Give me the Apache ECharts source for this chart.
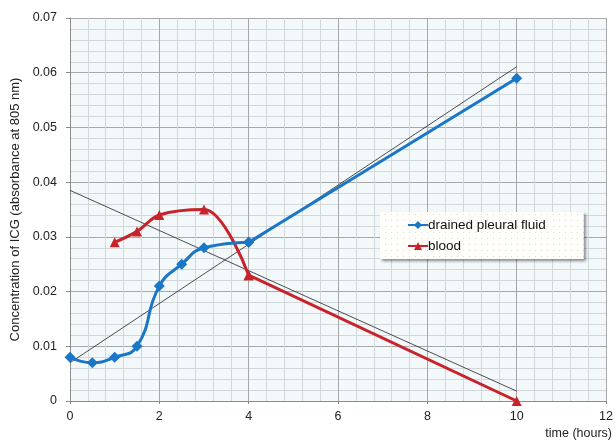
<!DOCTYPE html>
<html><head><meta charset="utf-8">
<script src="https://cdn.jsdelivr.net/npm/echarts@6/dist/echarts.min.js"></script>
<style>html,body{margin:0;padding:0;background:#fff}#c{width:616px;height:440px}</style>
</head><body><div id="c"></div>
<script>
const fluidX = [0, 0.5, 1, 1.5, 2, 2.5, 3, 4, 10];
const fluidY = [0.008, 0.007, 0.008, 0.010, 0.021, 0.025, 0.028, 0.029, 0.059];
const bloodX = [1, 1.5, 2, 3, 4, 10];
const bloodY = [0.029, 0.031, 0.034, 0.035, 0.023, 0];
const trendUp = [[0, 0.0070], [10, 0.0611]];
const trendDown = [[0, 0.0385], [10, 0.0018]];
const seriesNames = ['drained pleural fluid', 'blood'];
const xAxisName = 'time (hours)';
const yAxisName = 'Concentration of ICG (absorbance at 805 nm)';

const pc = document.createElement('canvas');
pc.width = 6; pc.height = 6;
const pctx = pc.getContext('2d');
pctx.fillStyle = '#fffefb'; pctx.fillRect(0,0,6,6);
pctx.fillStyle = '#e6d9bd'; pctx.fillRect(2,2,1,1);

const chart = echarts.init(document.getElementById('c'));
const zip = (xs, ys) => xs.map((x, i) => [x, ys[i]]);
const fluidPts = zip(fluidX, fluidY);
const bloodPts = zip(bloodX, bloodY);
const BLUE = '#1a76c6', RED = '#c8232b';
const mk = (name, data, smooth, sym, size, color, z) => ({
  name, type: 'line', data, smooth, symbol: sym, symbolSize: size,
  itemStyle: {color}, lineStyle: {color, width: 3}, z
});
chart.setOption({
  animation: false,
  textStyle: {fontFamily: 'Liberation Sans, Arial, sans-serif'},
  grid: {left: 70, right: 6, top: 18, bottom: 39, show: true, backgroundColor: '#f3f8fb', borderWidth: 0},
  xAxis: {
    type: 'value', min: 0, max: 12, interval: 2,
    axisLine: {show: true, lineStyle: {color: '#8c8c8c'}},
    axisTick: {show: true, length: 3, lineStyle: {color: '#8c8c8c'}},
    axisLabel: {color: '#222', fontSize: 12.5, margin: 9},
    splitLine: {show: true, lineStyle: {color: '#a8a8a8', width: 1}},
    minorTick: {show: false, splitNumber: 5},
    minorSplitLine: {show: true, lineStyle: {color: '#d3d8db', width: 1}}
  },
  yAxis: {
    type: 'value', min: 0, max: 0.07, interval: 0.01,
    name: yAxisName, nameLocation: 'middle', nameGap: 47,
    nameTextStyle: {color: '#222', fontSize: 13},
    axisLine: {show: true, lineStyle: {color: '#8c8c8c'}},
    axisTick: {show: true, length: 4, lineStyle: {color: '#8c8c8c'}},
    axisLabel: {color: '#222', fontSize: 12.5, margin: 13, formatter: v => v === 0 ? '0' : v.toFixed(2)},
    splitLine: {show: true, lineStyle: {color: '#a8a8a8', width: 1}},
    minorTick: {show: false, splitNumber: 5},
    minorSplitLine: {show: true, lineStyle: {color: '#d3d8db', width: 1}}
  },
  legend: {
    data: seriesNames, orient: 'vertical', left: 380, top: 212,
    padding: [6, 38, 6, 27], itemGap: 7, itemWidth: 20, itemHeight: 10,
    backgroundColor: {image: pc, repeat: 'repeat'},
    shadowBlur: 3, shadowColor: 'rgba(0,0,0,0.45)', shadowOffsetX: 2, shadowOffsetY: 2,
    textStyle: {color: '#111', fontSize: 13.5, padding: [0,0,0,-5]}
  },
  graphic: [{type: 'text', right: 4, top: 427, style: {text: xAxisName, fill: '#222', font: '12.5px Liberation Sans, Arial, sans-serif'}}],
  series: [
    {type: 'line', data: trendUp, symbol: 'none', silent: true, lineStyle: {color: '#222', width: 0.8}, z: 1},
    {type: 'line', data: trendDown, symbol: 'none', silent: true, lineStyle: {color: '#222', width: 0.8}, z: 1},
    mk(seriesNames[1], bloodPts.slice(0, 5), 0.35, 'triangle', 10, RED, 3),
    mk(seriesNames[1], bloodPts.slice(4), false, 'triangle', 10, RED, 3),
    mk(seriesNames[0], fluidPts.slice(0, 8), 0.5, 'diamond', 11, BLUE, 4),
    mk(seriesNames[0], fluidPts.slice(7), false, 'diamond', 11, BLUE, 4)
  ]
});
</script></body></html>
